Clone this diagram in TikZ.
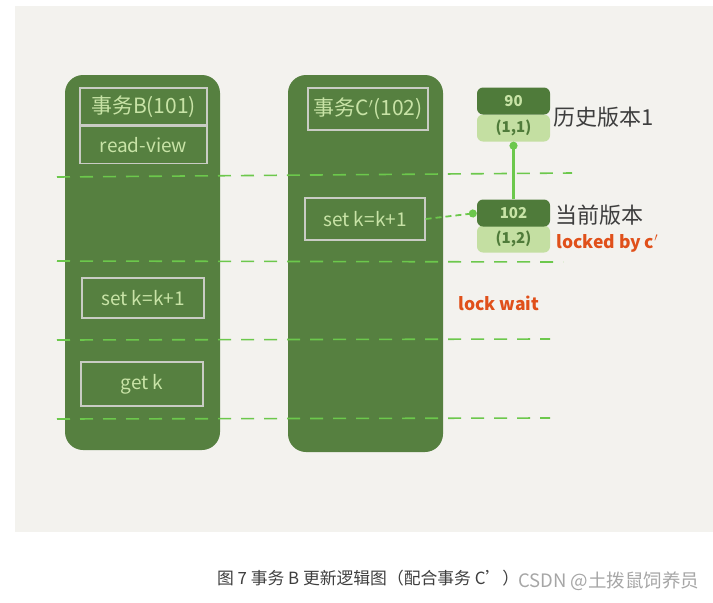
\documentclass[tikz,border=0pt]{standalone}
\usepackage{fontspec}
\setmainfont{Noto Sans CJK SC}
\usetikzlibrary{arrows.meta,positioning}

\definecolor{paper}{HTML}{F3F2EE}
\definecolor{colgreen}{HTML}{568040}
\definecolor{boxline}{HTML}{C9CCC4}
\definecolor{chalk}{HTML}{C8E3A6}
\definecolor{verdark}{HTML}{4F7B3A}
\definecolor{verlight}{HTML}{C4DFA2}
\definecolor{dashgreen}{HTML}{6CC84C}
\definecolor{lockred}{HTML}{E0501A}
\definecolor{inkgray}{HTML}{3E3E3E}

\begin{document}
\begin{tikzpicture}[x=1pt,y=-1pt,
    col/.style={fill=colgreen,rounded corners=18pt,minimum width=155pt,inner sep=0pt},
    stepbox/.style={draw=boxline,line width=1.2pt,text=chalk,inner sep=0pt,font=\fontsize{19}{19}\selectfont},
    ver/.style={rounded corners=6pt,minimum width=73pt,minimum height=27pt,inner sep=0pt,font=\fontsize{15}{15}\selectfont\bfseries},
    verd/.style={ver,fill=verdark,text=chalk},
    verl/.style={ver,fill=verlight,text=verdark},
    timeline/.style={dashgreen,line width=1.6pt,dash pattern=on 13pt off 10pt},
    link/.style={draw=dashgreen,line width=2.2pt,-{Circle[length=8pt,fill=dashgreen]}},
    note/.style={text=inkgray,font=\fontsize{22}{22}\selectfont,anchor=west,inner sep=0pt},
    lock/.style={text=lockred,font=\fontsize{17.5}{17.5}\selectfont\bfseries,anchor=west,inner sep=0pt}]
  \useasboundingbox (0,0) rectangle (713,603);
  \fill[paper] (15,6) rectangle (713,532);

  % the two transactions
  \node[col,minimum height=375pt] (colB) at (142.5,262.5) {};
  \node[col,minimum height=377pt] (colC) at (365.5,263.5) {};

  % time steps
  \draw[timeline] (57,177) -- (572,173);
  \draw[timeline] (57,261) -- (563,262);
  \draw[timeline] (57,340) -- (550,339);
  \draw[timeline] (57,419) -- (550,418);

  % transaction B
  \node[stepbox,minimum width=127pt,minimum height=37pt,font=\fontsize{21}{21}\selectfont] (hB) at (143.5,106.5) {事务B(101)};
  \node[stepbox,minimum width=127pt,minimum height=37pt] (rv) [below=0pt of hB] {read-view};
  \node[stepbox,minimum width=122pt,minimum height=40pt] (setB) at (143,298) {set k=k+1};
  \node[stepbox,minimum width=122pt,minimum height=44pt] (getB) at (142,384) {get k};

  % transaction C'
  \node[stepbox,minimum width=120pt,minimum height=42pt,font=\fontsize{21}{21}\selectfont] (hC) at (368,109) {事务C$'$(102)};
  \node[stepbox,minimum width=120pt,minimum height=42pt] (setC) at (365,219) {set k=k+1};

  % row versions
  \node[verl] (v11) at (513.5,128) {(1,1)};
  \node[verd] (v90) at (513.5,101) {90};
  \node[verl] (v12) at (513.5,239) {(1,2)};
  \node[verd] (v102) at (513.5,213) {102};

  \node[note] (hist) at (553,117) {历史版本1};
  \node[note] (cur) at (555,215) {当前版本};
  \node[lock] (lockedby) at (556,243) {locked by c$'$};
  \node[lock] (lockwait) at (458,303) {lock wait};

  \draw[link] (v102.north) -- (v11.south);
  \draw[link,line width=1.8pt,dash pattern=on 6pt off 4pt] (setC.east) -- (v102.west);

  % caption
  \node[text=inkgray,font=\fontsize{16.8}{16.8}\selectfont,anchor=west,inner sep=0pt] (cap) at (217,578) {图 7 事务 B 更新逻辑图（配合事务 C'）};
  \node[text=gray!70,font=\fontsize{18.5}{18.5}\selectfont,anchor=west,inner sep=0pt] (mark) at (518,581) {CSDN @土拨鼠饲养员};
\end{tikzpicture}
\end{document}
